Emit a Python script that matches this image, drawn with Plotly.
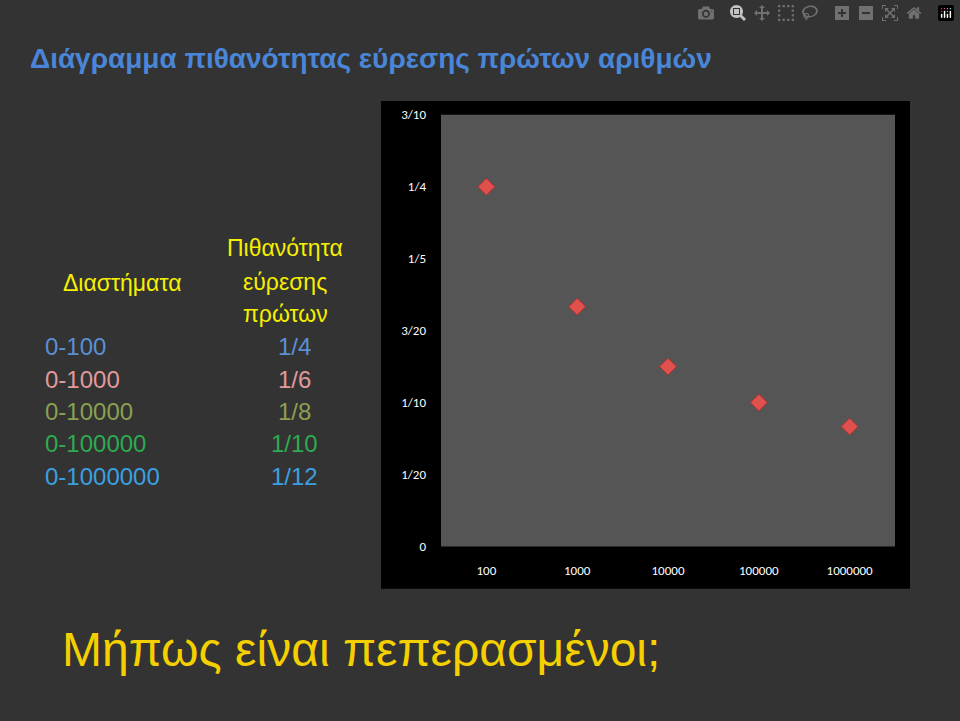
import plotly.graph_objects as go

categories = ["100", "1000", "10000", "100000", "1000000"]
values = [1/4, 1/6, 1/8, 1/10, 1/12]
ytick_vals = [0, 0.05, 0.1, 0.15, 0.2, 0.25, 0.3]
ytick_text = ["0", "1/20", "1/10", "3/20", "1/5", "1/4", "3/10"]
intervals = ["0-100", "0-1000", "0-10000", "0-100000", "0-1000000"]
probs = ["1/4", "1/6", "1/8", "1/10", "1/12"]
row_colors = ["#5b8fd6", "#e09a9a", "#8aa050", "#2eaa50", "#3ba0e0"]

fig = go.Figure(go.Scatter(
    x=list(range(len(categories))), y=values, mode="markers",
    marker=dict(symbol="diamond", size=13, color="#e0504c",
                line=dict(color="#b03030", width=1))))

W, H = 960, 721
tf = dict(family="Carlito, Liberation Sans, sans-serif", size=13, color="white")
fig.update_layout(
    width=W, height=H, margin=dict(l=0, r=0, t=0, b=0),
    paper_bgcolor="#333333", plot_bgcolor="#555555", showlegend=False,
    xaxis=dict(domain=[441/W, 895/W], range=[-0.5, 4.5], tickvals=list(range(5)),
               ticktext=categories, showgrid=False, zeroline=False, ticks="",
               ticklabelstandoff=14, tickfont=tf),
    yaxis=dict(domain=[1-551/H, 1-110/H], range=[0, 0.3], tickvals=ytick_vals,
               ticktext=ytick_text, showgrid=False, zeroline=False, ticks="",
               ticklabelstandoff=14, tickfont=tf),
    shapes=[dict(type="rect", xref="paper", yref="paper", x0=381/W, x1=910/W,
                 y0=1-594/H, y1=1-96/H, fillcolor="black", line=dict(width=0), layer="below"),
            dict(type="rect", xref="paper", yref="paper", x0=441/W, x1=895/W,
                 y0=1-551/H, y1=1-110/H, fillcolor="#555555", line=dict(width=0), layer="below")],
)

ann = []
def txt(x, y, s, color, size, anchor="center", family="Liberation Sans, Arial"):
    ann.append(dict(x=x/W, y=1-y/H, xref="paper", yref="paper", text=s, showarrow=False,
                    xanchor=anchor, yanchor="middle", font=dict(family=family, size=size, color=color)))

txt(28, 53, "<b>Διάγραμμα πιθανότητας εύρεσης πρώτων αριθμών</b>", "#4a86d8", 28, "left")
txt(122, 282, "Διαστήματα", "#f5f000", 23)
txt(285, 246, "Πιθανότητα", "#f5f000", 23)
txt(285, 281, "εύρεσης", "#f5f000", 23)
txt(285, 314, "πρώτων", "#f5f000", 23)
for i, (a, b, c) in enumerate(zip(intervals, probs, row_colors)):
    y = 347 + i * 33
    txt(43, y, a, c, 24, "left")
    txt(294, y, b, c, 24)
txt(60, 656, "Μήπως είναι πεπερασμένοι;", "#f5d000", 48, "left")
fig.update_layout(annotations=ann)
fig.write_html("out.html", post_script="document.body.style.margin='0';document.body.style.overflow='hidden';")
